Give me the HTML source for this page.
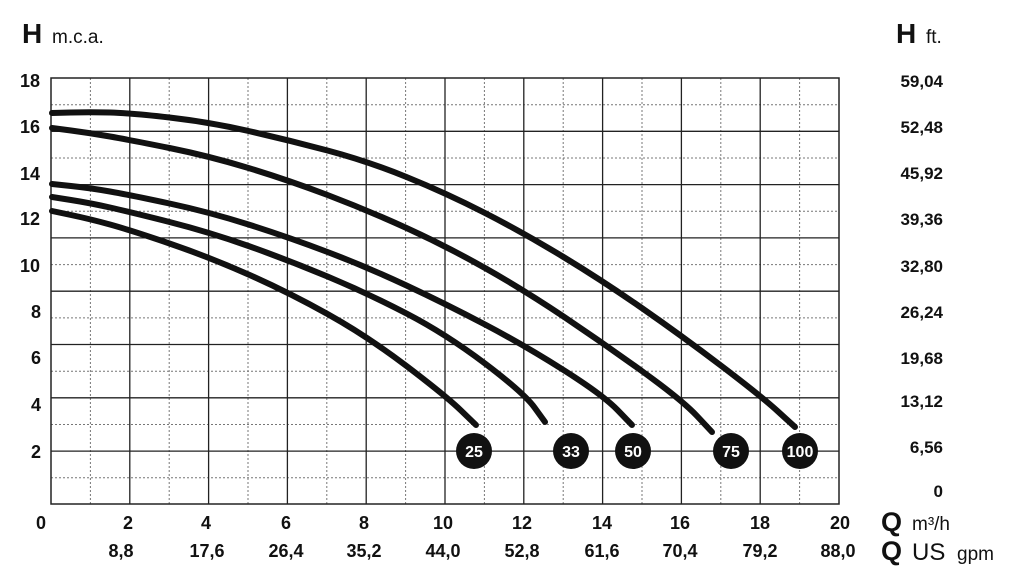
<!DOCTYPE html>
<html><head><meta charset="utf-8"><style>
html,body{margin:0;padding:0;background:#fff}
svg{display:block}
text{font-family:"Liberation Sans",Arial,sans-serif;font-weight:bold;fill:#111}
</style></head><body>
<svg width="1024" height="584" viewBox="0 0 1024 584" xmlns="http://www.w3.org/2000/svg">
<g stroke="#777" stroke-width="1" stroke-dasharray="2,2">
<line x1="51" y1="104.7" x2="839" y2="104.7"/><line x1="51" y1="158" x2="839" y2="158"/>
<line x1="51" y1="211.3" x2="839" y2="211.3"/><line x1="51" y1="264.6" x2="839" y2="264.6"/>
<line x1="51" y1="317.9" x2="839" y2="317.9"/><line x1="51" y1="371.2" x2="839" y2="371.2"/>
<line x1="51" y1="424.5" x2="839" y2="424.5"/><line x1="51" y1="477.8" x2="839" y2="477.8"/>
<line x1="90.4" y1="78" x2="90.4" y2="504"/><line x1="169.2" y1="78" x2="169.2" y2="504"/>
<line x1="248" y1="78" x2="248" y2="504"/><line x1="326.8" y1="78" x2="326.8" y2="504"/>
<line x1="405.6" y1="78" x2="405.6" y2="504"/><line x1="484.4" y1="78" x2="484.4" y2="504"/>
<line x1="563.2" y1="78" x2="563.2" y2="504"/><line x1="642" y1="78" x2="642" y2="504"/>
<line x1="720.8" y1="78" x2="720.8" y2="504"/><line x1="799.6" y1="78" x2="799.6" y2="504"/>
</g>
<g stroke="#222" stroke-width="1.3">
<line x1="51" y1="131.3" x2="839" y2="131.3"/><line x1="51" y1="184.6" x2="839" y2="184.6"/>
<line x1="51" y1="237.9" x2="839" y2="237.9"/><line x1="51" y1="291.2" x2="839" y2="291.2"/>
<line x1="51" y1="344.5" x2="839" y2="344.5"/><line x1="51" y1="397.8" x2="839" y2="397.8"/>
<line x1="51" y1="451.1" x2="839" y2="451.1"/>
<line x1="129.8" y1="78" x2="129.8" y2="504"/><line x1="208.6" y1="78" x2="208.6" y2="504"/>
<line x1="287.4" y1="78" x2="287.4" y2="504"/><line x1="366.2" y1="78" x2="366.2" y2="504"/>
<line x1="445" y1="78" x2="445" y2="504"/><line x1="523.8" y1="78" x2="523.8" y2="504"/>
<line x1="602.6" y1="78" x2="602.6" y2="504"/><line x1="681.4" y1="78" x2="681.4" y2="504"/>
<line x1="760.2" y1="78" x2="760.2" y2="504"/>
<rect x="51" y="78" width="788" height="426" fill="none" stroke-width="1.5"/>
</g>
<g fill="none" stroke="#111" stroke-width="6" stroke-linecap="round" stroke-linejoin="round">
<path d="M52,113 L71,112.5 Q90,112 110,112.5 Q130,113 169.5,117.5 Q209,122 248.5,131 Q288,140 327.5,150.5 Q367,161 406.5,177 Q446,193 485,213 Q524,233 563.5,257 Q603,281 642.5,308.5 Q682,336 721.5,366 Q761,396 778,411.5 L795,427"/>
<path d="M52,128 L71,130.5 Q90,133 110,136.5 Q130,140 169.5,148 Q209,156 248.5,168 Q288,180 327.5,195 Q367,210 406.5,228 Q446,246 485,268 Q524,290 563.5,316.5 Q603,343 642.5,371.5 Q682,400 697,416 L712,432"/>
<path d="M52,184 L71,186 Q90,188 110,191.5 Q130,195 169.5,203.5 Q209,212 248.5,224.5 Q288,237 327.5,252 Q367,267 406.5,285.5 Q446,304 485,324.5 Q524,345 563.5,370 Q603,395 617.5,410 L632,425"/>
<path d="M52,197 L71,200 Q90,203 110,207.5 Q130,212 169.5,222 Q209,232 248.5,246 Q288,260 327.5,276.5 Q367,293 406.5,313.5 Q446,334 485,363.5 Q524,393 534.5,407.5 L545,422"/>
<path d="M52,211 L71,215 Q90,219 110,224.5 Q130,230 169.5,243.5 Q209,257 248.5,274.5 Q288,292 327.5,314 Q367,336 406.5,366 Q446,396 461,410.5 L476,425"/>
</g>
<g>
<circle cx="474" cy="451" r="18" fill="#111"/><circle cx="571" cy="451" r="18" fill="#111"/>
<circle cx="633" cy="451" r="18" fill="#111"/><circle cx="731" cy="451" r="18" fill="#111"/>
<circle cx="800" cy="451" r="18" fill="#111"/>
</g>
<g font-size="16" text-anchor="middle">
<text x="474" y="457" style="fill:#fff">25</text><text x="571" y="457" style="fill:#fff">33</text>
<text x="633" y="457" style="fill:#fff">50</text><text x="731" y="457" style="fill:#fff">75</text>
<text x="800" y="457" style="fill:#fff">100</text>
</g>
<text x="22" y="43" font-size="28">H</text>
<text x="52" y="43" font-size="19" style="font-weight:normal">m.c.a.</text>
<text x="896" y="43" font-size="28">H</text>
<text x="926" y="43" font-size="19" style="font-weight:normal">ft.</text>
<g font-size="18" text-anchor="middle">
<text x="30" y="87">18</text><text x="30" y="133">16</text><text x="30" y="180">14</text>
<text x="30" y="225">12</text><text x="30" y="272">10</text><text x="36" y="318">8</text>
<text x="36" y="364">6</text><text x="36" y="411">4</text><text x="36" y="458">2</text>
</g>
<g font-size="17" text-anchor="end">
<text x="943" y="87">59,04</text><text x="943" y="133">52,48</text><text x="943" y="179">45,92</text>
<text x="943" y="225">39,36</text><text x="943" y="272">32,80</text><text x="943" y="318">26,24</text>
<text x="943" y="364">19,68</text><text x="943" y="407">13,12</text><text x="943" y="453">6,56</text>
<text x="943" y="497">0</text>
</g>
<g font-size="18" text-anchor="middle">
<text x="41" y="529">0</text><text x="128" y="529">2</text><text x="206" y="529">4</text>
<text x="286" y="529">6</text><text x="364" y="529">8</text><text x="443" y="529">10</text>
<text x="522" y="529">12</text><text x="602" y="529">14</text><text x="680" y="529">16</text>
<text x="760" y="529">18</text><text x="840" y="529">20</text>
</g>
<g font-size="18" text-anchor="middle">
<text x="121" y="557">8,8</text><text x="207" y="557">17,6</text><text x="286" y="557">26,4</text>
<text x="364" y="557">35,2</text><text x="443" y="557">44,0</text><text x="522" y="557">52,8</text>
<text x="602" y="557">61,6</text><text x="680" y="557">70,4</text><text x="760" y="557">79,2</text>
<text x="838" y="557">88,0</text>
</g>
<text x="881" y="531" font-size="27">Q</text>
<text x="912" y="530" font-size="19" style="font-weight:normal">m³/h</text>
<text x="881" y="560" font-size="27">Q</text>
<text x="912" y="560" font-size="24" style="font-weight:normal">US</text>
<text x="957" y="560" font-size="19" style="font-weight:normal">gpm</text>
</svg>
</body></html>
